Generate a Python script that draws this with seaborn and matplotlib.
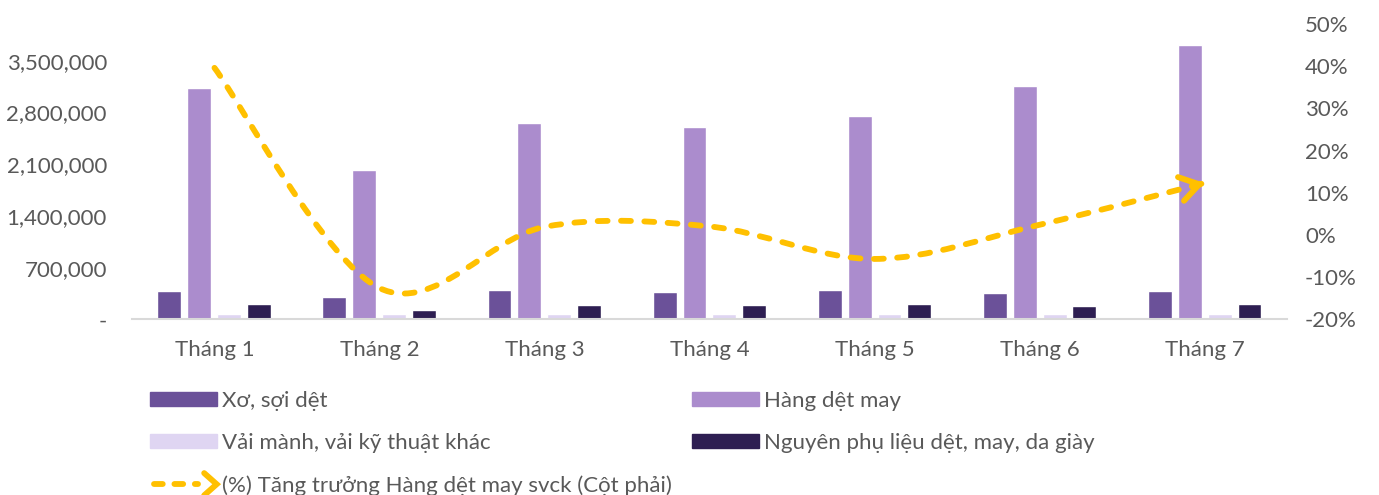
import numpy as np
import pandas as pd
import matplotlib
matplotlib.use('Agg')
import matplotlib.pyplot as plt
import seaborn as sns
from matplotlib.path import Path
from matplotlib.patches import PathPatch, Patch
from matplotlib.lines import Line2D
from matplotlib.legend_handler import HandlerBase
from matplotlib.ticker import FuncFormatter, MultipleLocator

months = ['Tháng 1', 'Tháng 2', 'Tháng 3', 'Tháng 4', 'Tháng 5', 'Tháng 6', 'Tháng 7']
xo_soi = [386000, 300000, 392000, 365000, 390000, 352000, 380000]
hang_det_may = [3130000, 2020000, 2665000, 2600000, 2760000, 3160000, 3715000]
vai_manh = [76000, 66000, 78000, 72000, 74000, 70000, 78000]
nguyen_phu_lieu = [206000, 125000, 190000, 200000, 202000, 178000, 204000]
growth = [39.6, -12.6, 1.9, 2.0, -5.7, 2.4, 12.3]

series_names = ['Xơ, sợi dệt', 'Hàng dệt may', 'Vải mành, vải kỹ thuật khác',
                'Nguyên phụ liệu dệt, may, da giày']
line_name = '(%) Tăng trưởng Hàng dệt may svck (Cột phải)'
colors = ['#6B5199', '#AB8CCD', '#DFD5F2', '#2E1E52']
line_color = '#FFC000'
text_color = '#595959'
fs = 16

sns.set_style('white')
plt.rcParams['font.family'] = ['Lato', 'DejaVu Sans']
plt.rcParams['font.size'] = fs

df = pd.DataFrame({
    'month': months * 4,
    'series': np.repeat(series_names, len(months)),
    'value': xo_soi + hang_det_may + vai_manh + nguyen_phu_lieu,
})

fig = plt.figure(figsize=(13.79, 4.95), dpi=100)
ax = fig.add_axes([0.0957, 0.355, 0.8376, 0.5966])

sns.barplot(data=df, x='month', y='value', hue='series', hue_order=series_names,
            palette=colors, saturation=1, width=0.727, gap=0.2, legend=False, ax=ax)
ax.set_xlim(-0.5, 6.5)
ax.set_ylim(0, 4.0e6)
ax.yaxis.set_major_locator(MultipleLocator(700000))
ax.yaxis.set_major_formatter(FuncFormatter(lambda v, p: '-' if v == 0 else f'{v:,.0f}'))
ax.set_xlabel('')
ax.set_ylabel('')
for s in ['top', 'left', 'right']:
    ax.spines[s].set_visible(False)
ax.spines['bottom'].set_color('#D9D9D9')
ax.spines['bottom'].set_linewidth(1.5)
ax.tick_params(axis='y', length=0, pad=18, labelcolor=text_color, labelsize=fs)
ax.tick_params(axis='x', length=0, pad=15, labelcolor=text_color, labelsize=fs)

# growth line on right axis, smoothed like Excel
ax2 = ax.twinx()
ax2.set_ylim(-20, 50)
ax2.yaxis.set_major_locator(MultipleLocator(10))
ax2.yaxis.set_major_formatter(FuncFormatter(lambda v, p: f'{v:.0f}%'))
ax2.tick_params(axis='y', length=0, pad=13, labelcolor=text_color, labelsize=fs)
for s in ax2.spines.values():
    s.set_visible(False)

pts = np.column_stack([np.arange(len(growth)), growth]).astype(float)
verts = [pts[0]]
codes = [Path.MOVETO]
n = len(pts)
for i in range(n - 1):
    p0 = pts[max(i - 1, 0)]
    p1 = pts[i]
    p2 = pts[i + 1]
    p3 = pts[min(i + 2, n - 1)]
    verts += [p1 + (p2 - p0) / 6, p2 - (p3 - p1) / 6, p2]
    codes += [Path.CURVE4] * 3
patch = PathPatch(Path(verts, codes), fill=False, edgecolor=line_color, lw=4.2,
                  linestyle=(0, (1.7, 2.3)), capstyle='round')
ax2.add_patch(patch)

d = pts[-1] - pts[-2]
ax2.annotate('', xy=tuple(pts[-1]), xytext=tuple(pts[-1] - d * 0.04),
             arrowprops=dict(arrowstyle='->, head_length=0.85, head_width=0.55',
                             color=line_color, lw=4.2, capstyle='round',
                             shrinkA=0, shrinkB=0))


class ArrowLineHandler(HandlerBase):
    def create_artists(self, legend, orig_handle, xdescent, ydescent,
                       width, height, fontsize, trans):
        y = height / 2 - ydescent
        x0 = -xdescent
        line = Line2D([x0 + 3, x0 + width * 0.72], [y, y], color=line_color, lw=4.2,
                      linestyle=(0, (1.5, 2.0)), dash_capstyle='round', transform=trans)
        tip = x0 + width
        head = Line2D([tip - 9, tip, tip - 9], [y + 8, y, y - 8], color=line_color,
                      lw=4.2, solid_capstyle='round', solid_joinstyle='miter',
                      transform=trans)
        return [line, head]


h = [Patch(color=c) for c in colors]
line_handle = Line2D([], [], color=line_color)
common = dict(frameon=False, fontsize=fs, labelcolor=text_color, handlelength=3.0,
              handleheight=0.6, handletextpad=0.25, labelspacing=1.0,
              borderpad=0, borderaxespad=0, loc='upper left')
fig.legend([h[0], h[2], line_handle], [series_names[0], series_names[2], line_name],
           bbox_to_anchor=(150 / 1379, 1 - 391 / 495),
           handler_map={Line2D: ArrowLineHandler()}, **common)
fig.legend([h[1], h[3]], [series_names[1], series_names[3]],
           bbox_to_anchor=(692 / 1379, 1 - 391 / 495), **common)

fig.savefig('out.png', dpi=100)
